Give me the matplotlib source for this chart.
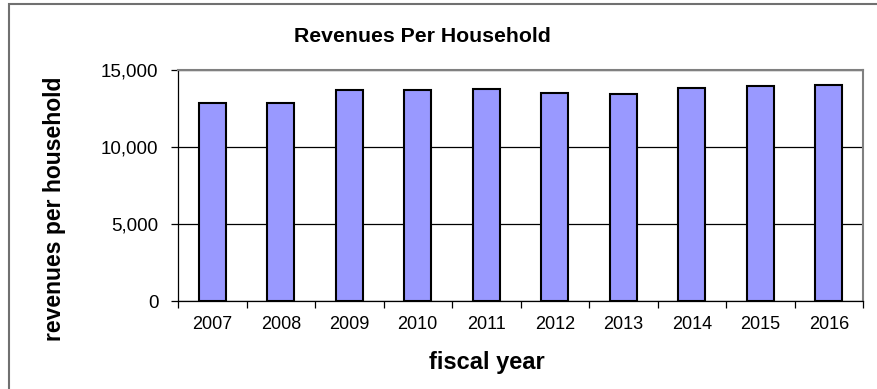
import matplotlib.pyplot as plt
from matplotlib.patches import Rectangle
from matplotlib.ticker import FuncFormatter

plt.rcParams['font.family'] = ['Liberation Sans', 'DejaVu Sans']

years = ['2007', '2008', '2009', '2010', '2011', '2012', '2013', '2014', '2015', '2016']
revenues = [12880, 12880, 13720, 13680, 13750, 13510, 13460, 13850, 13960, 14010]

fig = plt.figure(figsize=(8.77, 3.89), dpi=100)
ax = fig.add_axes([178 / 877, 1 - 301 / 389, (863 - 178) / 877, (301 - 70) / 389])

x = list(range(len(years)))
ax.bar(x, revenues, width=0.4, color='#9999FF', edgecolor='black', linewidth=1.5, zorder=3)

ax.set_xlim(-0.5, len(years) - 0.5)
ax.set_ylim(0, 15000)
ax.set_yticks([0, 5000, 10000, 15000])
ax.yaxis.set_major_formatter(FuncFormatter(lambda v, p: f'{int(v):,}'))
ax.yaxis.grid(True, color='black', linewidth=0.9, zorder=1)

# year labels in the middle, ticks at the category boundaries
ax.set_xticks(x)
ax.set_xticklabels(years)
ax.tick_params(axis='x', which='major', length=0, pad=11, labelsize=13)
ax.set_xticks([i - 0.5 for i in range(len(years) + 1)], minor=True)
ax.tick_params(axis='x', which='minor', length=5, width=0.9, direction='out')
ax.tick_params(axis='y', length=5, width=0.9, direction='out', pad=9, labelsize=13.5)

for s in ['top', 'right']:
    ax.spines[s].set_color('#808080')
    ax.spines[s].set_linewidth(1.5)
for s in ['left', 'bottom']:
    ax.spines[s].set_color('black')
    ax.spines[s].set_linewidth(0.9)

fig.text(422 / 877, 1 - 36 / 389, 'Revenues Per Household', ha='center', va='center',
         fontsize=15.3, fontweight='bold')
fig.text(487 / 877, 1 - 362 / 389, 'fiscal year', ha='center', va='center',
         fontsize=17, fontweight='bold')
fig.text(55 / 877, 1 - 209 / 389, 'revenues per household', ha='center', va='center',
         rotation=90, fontsize=16.5, fontweight='bold')

# chart area frame
fig.patches.append(Rectangle((9 / 877, -0.1), 1.2, 1.1 - 4.5 / 389, transform=fig.transFigure,
                             fill=False, edgecolor='#707070', linewidth=1.5))

fig.savefig('out.png', dpi=100)
